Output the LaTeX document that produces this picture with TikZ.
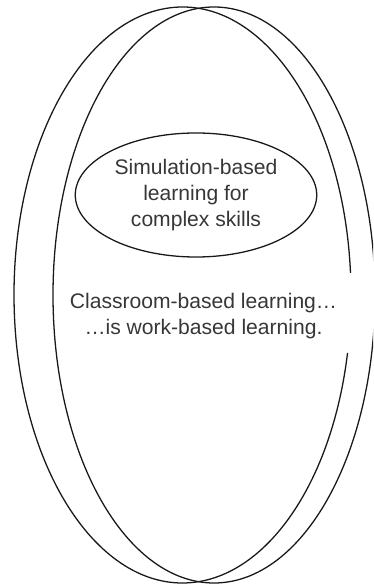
\documentclass[tikz,border=0pt]{standalone}
\usepackage{fontspec}
\setmainfont{Liberation Sans}
\usetikzlibrary{shapes.geometric}

\definecolor{LineGray}{RGB}{25,25,25}
\definecolor{TextGray}{RGB}{55,55,55}

\begin{document}
\begin{tikzpicture}[
    ring/.style={draw=LineGray, line width=1.1pt},
    inner/.style={ellipse, draw=LineGray, line width=1.1pt, minimum width=6.54cm, minimum height=3.72cm, align=center, text=TextGray, font=\fontsize{18}{22.2}\selectfont},
    label/.style={align=center, text=TextGray, font=\fontsize{18}{22.2}\selectfont}
  ]
    \clip (0,0) rectangle (11.19,17.58);

    % Classroom ellipse (open where the label passes)
    \draw[ring] (5.475,8.73) ++(4.4:5.055cm and 8.64cm)
      arc[start angle=4.4, end angle=348.4, x radius=5.055, y radius=8.64];
    % Work ellipse
    \draw[ring] (6.42,8.73) ellipse[x radius=4.83, y radius=8.64];

    % Simulation
    \node[inner] (sim) at (5.88,11.73) {Simulation-based\\learning for\\complex skills};

    % Middle label
    \node[label] (classroom) at (6.105,8.1) {Classroom-based learning…\\…is work-based learning.};
  \end{tikzpicture}
\end{document}
